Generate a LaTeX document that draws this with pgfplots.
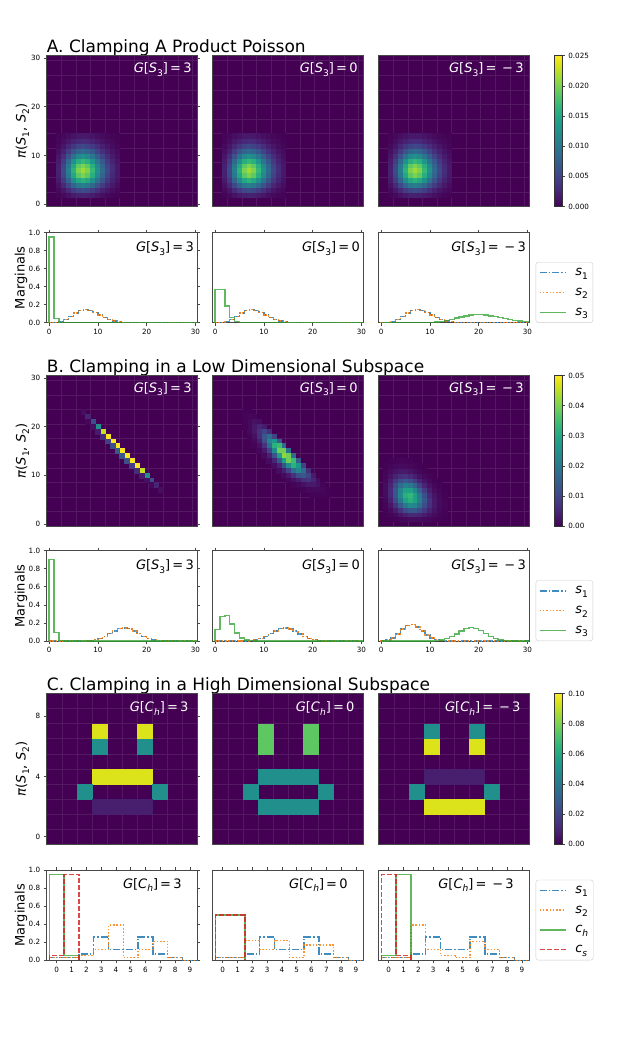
\documentclass[border=0pt]{standalone}
\usepackage{fontspec}
\setmainfont{DejaVu Sans}
\usepackage{graphicx}
\usepackage{pgfplots}
\pgfplotsset{compat=1.18}
\usepackage{pgfplotstable}

\definecolor{vir0}{RGB}{68,1,84}
\definecolor{c0}{RGB}{31,119,180}
\definecolor{c1}{RGB}{255,127,14}
\definecolor{c2}{RGB}{44,160,44}
\definecolor{c3}{RGB}{214,39,40}

\newcommand{\fs}[1]{\fontsize{#1}{#1}\selectfont}
\newcommand{\mi}[1]{\textit{#1}}
\newcommand{\sub}[1]{\raisebox{-0.28em}{\scalebox{0.7}{#1}}}
\newcommand{\GS}[1]{\mi{G}[\mi{S}\sub{3}]\,=\,#1}
\newcommand{\GC}[1]{\mi{G}[\mi{C}\sub{\mi{h}}]\,=\,#1}
\newcommand{\mthree}{\;−\,3}

\tikzset{
  ann/.style={anchor=north east, inner sep=0pt, font=\fs{13}},
  ps1/.style={c0, opacity=0.85, line width=1.4pt, dash pattern=on 7pt off 2pt on 1.5pt off 2pt},
  ps2/.style={c1, opacity=0.85, line width=1.4pt, dash pattern=on 1.5pt off 1.8pt},
  ps3/.style={c2, opacity=0.75, line width=1.4pt},
  pcs/.style={c3, opacity=0.85, line width=1.4pt, dash pattern=on 5pt off 2pt},
}

\pgfplotsset{
  /pgf/number format/assume math mode=true,
  every axis/.append style={
    scale only axis,
    axis line style={black!72, line width=0.7pt},
    tick style={black!72, line width=0.7pt},
    tick align=outside, major tick length=3pt,
    tick label style={font=\fs{7.2}},
    label style={font=\fs{13}},
  },
  every axis plot/.append style={const plot mark left},
  hm/.style={
    width=150.6pt, height=150.8pt,
    axis background/.style={fill=vir0},
    colormap/viridis, point meta min=0,
    xtick={0}, xticklabels={}, xtick style={draw=none},
    ytick={0}, yticklabels={}, ytick style={draw=none},
    minor tick length=0pt, grid=minor,
    minor grid style={color=white!9!vir0, line width=0.5pt},
  },
  big/.style={xmin=-0.5, xmax=30.5, ymin=-0.5, ymax=30.5,
    minor xtick={2.5,5.5,...,29.5}, minor ytick={2.5,5.5,...,29.5}},
  small/.style={xmin=-0.5, xmax=9.5, ymin=-0.5, ymax=9.5,
    minor xtick={0.5,1.5,...,8.5}, minor ytick={0.5,1.5,...,8.5}},
  cell/.style={scatter, only marks, mark=square*, mark size=#1, point meta=explicit,
    scatter/use mapped color={draw=mapped color, fill=mapped color, line width=0.3pt}},
  mg/.style={width=150.6pt, height=90.3pt, ymin=0, ymax=1, ytick=\empty},
  mgleft/.style={ytick={0,0.2,0.4,0.6,0.8,1}, yticklabels={0.0,0.2,0.4,0.6,0.8,1.0},
    ylabel={Marginals}, ylabel style={at={(axis description cs:-0.171,0.5)}, anchor=center}},
  hmleft/.style={ylabel={\mi{π}(\mi{S}\sub{1}, \mi{S}\sub{2})},
    ylabel style={at={(axis description cs:-0.161,0.5)}, anchor=center},
    ytick style={draw=black!72, line width=0.7pt}},
  cb/.style={colorbar, colorbar style={at={(parent axis.north east)}, anchor=north west,
    xshift=16.4pt, width=7.6pt, height=150.8pt, ytick pos=right, yticklabel pos=right,
    scaled y ticks=false,
    axis line style={black!80, line width=0.6pt}, #1}},
  leg/.style={legend style={at={(1.0425,0)}, anchor=south west, draw=black!20,
    rounded corners=2.5pt, font=\fs{13}, inner xsep=3pt, inner ysep=4pt, row sep=7pt,
    /tikz/every odd column/.append style={column sep=7pt}},
    legend cell align=left,
    legend image code/.code={\draw[##1] (0pt,0pt) -- (26pt,0pt);}},
}

% product Poisson heatmap, same in all three A panels
\pgfplotstableread[row sep=\\]{
x y z\\
2 2 0.00024\\ 3 2 0.00061\\ 4 2 0.00113\\ 5 2 0.00170\\ 6 2 0.00213\\ 7 2 0.00228\\ 8 2 0.00214\\ 9 2 0.00178\\ 10 2 0.00134\\ 11 2 0.00091\\ 12 2 0.00057\\ 13 2 0.00033\\ 14 2 0.00018\\
2 3 0.00061\\ 3 3 0.00151\\ 4 3 0.00284\\ 5 3 0.00425\\ 6 3 0.00532\\ 7 3 0.00570\\ 8 3 0.00534\\ 9 3 0.00445\\ 10 3 0.00334\\ 11 3 0.00228\\ 12 3 0.00142\\ 13 3 0.00082\\ 14 3 0.00044\\
2 4 0.00113\\ 3 4 0.00284\\ 4 4 0.00532\\ 5 4 0.00798\\ 6 4 0.00997\\ 7 4 0.01068\\ 8 4 0.01001\\ 9 4 0.00834\\ 10 4 0.00626\\ 11 4 0.00427\\ 12 4 0.00267\\ 13 4 0.00154\\ 14 4 0.00082\\
2 5 0.00170\\ 3 5 0.00425\\ 4 5 0.00798\\ 5 5 0.01196\\ 6 5 0.01495\\ 7 5 0.01602\\ 8 5 0.01502\\ 9 5 0.01252\\ 10 5 0.00939\\ 11 5 0.00640\\ 12 5 0.00400\\ 13 5 0.00231\\ 14 5 0.00124\\
2 6 0.00213\\ 3 6 0.00532\\ 4 6 0.00997\\ 5 6 0.01495\\ 6 6 0.01869\\ 7 6 0.02003\\ 8 6 0.01878\\ 9 6 0.01565\\ 10 6 0.01173\\ 11 6 0.00800\\ 12 6 0.00500\\ 13 6 0.00288\\ 14 6 0.00154\\
2 7 0.00228\\ 3 7 0.00570\\ 4 7 0.01068\\ 5 7 0.01602\\ 6 7 0.02003\\ 7 7 0.02146\\ 8 7 0.02012\\ 9 7 0.01676\\ 10 7 0.01257\\ 11 7 0.00857\\ 12 7 0.00536\\ 13 7 0.00309\\ 14 7 0.00166\\
2 8 0.00214\\ 3 8 0.00534\\ 4 8 0.01001\\ 5 8 0.01502\\ 6 8 0.01878\\ 7 8 0.02012\\ 8 8 0.01886\\ 9 8 0.01572\\ 10 8 0.01179\\ 11 8 0.00804\\ 12 8 0.00502\\ 13 8 0.00290\\ 14 8 0.00155\\
2 9 0.00178\\ 3 9 0.00445\\ 4 9 0.00834\\ 5 9 0.01252\\ 6 9 0.01565\\ 7 9 0.01676\\ 8 9 0.01572\\ 9 9 0.01310\\ 10 9 0.00982\\ 11 9 0.00670\\ 12 9 0.00419\\ 13 9 0.00241\\ 14 9 0.00129\\
2 10 0.00134\\ 3 10 0.00334\\ 4 10 0.00626\\ 5 10 0.00939\\ 6 10 0.01173\\ 7 10 0.01257\\ 8 10 0.01179\\ 9 10 0.00982\\ 10 10 0.00737\\ 11 10 0.00502\\ 12 10 0.00314\\ 13 10 0.00181\\ 14 10 0.00097\\
2 11 0.00091\\ 3 11 0.00228\\ 4 11 0.00427\\ 5 11 0.00640\\ 6 11 0.00800\\ 7 11 0.00857\\ 8 11 0.00804\\ 9 11 0.00670\\ 10 11 0.00502\\ 11 11 0.00342\\ 12 11 0.00214\\ 13 11 0.00123\\ 14 11 0.00066\\
2 12 0.00057\\ 3 12 0.00142\\ 4 12 0.00267\\ 5 12 0.00400\\ 6 12 0.00500\\ 7 12 0.00536\\ 8 12 0.00502\\ 9 12 0.00419\\ 10 12 0.00314\\ 11 12 0.00214\\ 12 12 0.00134\\ 13 12 0.00077\\ 14 12 0.00041\\
2 13 0.00033\\ 3 13 0.00082\\ 4 13 0.00154\\ 5 13 0.00231\\ 6 13 0.00288\\ 7 13 0.00309\\ 8 13 0.00290\\ 9 13 0.00241\\ 10 13 0.00181\\ 11 13 0.00123\\ 12 13 0.00077\\ 13 13 0.00045\\ 14 13 0.00024\\
2 14 0.00018\\ 3 14 0.00044\\ 4 14 0.00082\\ 5 14 0.00124\\ 6 14 0.00154\\ 7 14 0.00166\\ 8 14 0.00155\\ 9 14 0.00129\\ 10 14 0.00097\\ 11 14 0.00066\\ 12 14 0.00041\\ 13 14 0.00024\\ 14 14 0.00013\\
}\hmA

\begin{document}
\begin{tikzpicture}
\path[use as bounding box] (0,0) rectangle (623pt,-1038pt);

% ---------------- A ----------------
\node[anchor=base west, inner sep=0pt, font=\fs{17}] at (46.7pt,-52.7pt) {A. Clamping A Product Poisson};

\begin{axis}[hm, big, hmleft, at={(46.7pt,-55.7pt)}, anchor=north west, point meta max=0.025,
  ytick={0,10,20,30}, yticklabels={0,10,20,30}]
\addplot[cell=2.43pt] table[meta=z] {\hmA};
\node[ann, text=white] at (rel axis cs:0.963,0.956) {\GS{3}};
\end{axis}
\begin{axis}[hm, big, at={(212.7pt,-55.7pt)}, anchor=north west, point meta max=0.025]
\addplot[cell=2.43pt] table[meta=z] {\hmA};
\node[ann, text=white] at (rel axis cs:0.963,0.956) {\GS{0}};
\end{axis}
\begin{axis}[hm, big, at={(378.7pt,-55.7pt)}, anchor=north west, point meta max=0.025,
  cb={ytick={0,0.005,0.01,0.015,0.02,0.025}, yticklabels={0.000,0.005,0.010,0.015,0.020,0.025}}]
\addplot[cell=2.43pt] table[meta=z] {\hmA};
\node[ann, text=white] at (rel axis cs:0.963,0.956) {\GS{\mthree}};
\end{axis}

\begin{axis}[mg, mgleft, at={(46.7pt,-232.5pt)}, anchor=north west, xmin=-0.5, xmax=30.4, xtick={0,10,20,30}]
\addplot[ps1] coordinates {(0,0) (0,0.00055) (1,0.00415) (2,0.01556) (3,0.03889) (4,0.07292) (5,0.10937) (6,0.13672) (7,0.14648) (8,0.13733) (9,0.11444) (10,0.08583) (11,0.05852) (12,0.03658) (13,0.02110) (14,0.01130) (15,0.00565) (16,0.00265) (17,0.00117) (18,0.00049) (19,0.00019) (20,0.00007) (21,0) (31,0)};
\addplot[ps2] coordinates {(0,0) (0,0.00055) (1,0.00415) (2,0.01556) (3,0.03889) (4,0.07292) (5,0.10937) (6,0.13672) (7,0.14648) (8,0.13733) (9,0.11444) (10,0.08583) (11,0.05852) (12,0.03658) (13,0.02110) (14,0.01130) (15,0.00565) (16,0.00265) (17,0.00117) (18,0.00049) (19,0.00019) (20,0.00007) (21,0) (31,0)};
\addplot[ps3] coordinates {(0,0) (0,0.9514) (1,0.0474) (2,0.0012) (3,0) (31,0)};
\node[ann] at (rel axis cs:0.978,0.9) {\GS{3}};
\end{axis}
\begin{axis}[mg, at={(212.7pt,-232.5pt)}, anchor=north west, xmin=-0.5, xmax=30.4, xtick={0,10,20,30}]
\addplot[ps1] coordinates {(0,0) (0,0.00055) (1,0.00415) (2,0.01556) (3,0.03889) (4,0.07292) (5,0.10937) (6,0.13672) (7,0.14648) (8,0.13733) (9,0.11444) (10,0.08583) (11,0.05852) (12,0.03658) (13,0.02110) (14,0.01130) (15,0.00565) (16,0.00265) (17,0.00117) (18,0.00049) (19,0.00019) (20,0.00007) (21,0) (31,0)};
\addplot[ps2] coordinates {(0,0) (0,0.00055) (1,0.00415) (2,0.01556) (3,0.03889) (4,0.07292) (5,0.10937) (6,0.13672) (7,0.14648) (8,0.13733) (9,0.11444) (10,0.08583) (11,0.05852) (12,0.03658) (13,0.02110) (14,0.01130) (15,0.00565) (16,0.00265) (17,0.00117) (18,0.00049) (19,0.00019) (20,0.00007) (21,0) (31,0)};
\addplot[ps3] coordinates {(0,0) (0,0.3679) (1,0.3679) (2,0.1839) (3,0.0613) (4,0.0153) (5,0.0031) (6,0.0005) (7,0) (31,0)};
\node[ann] at (rel axis cs:0.978,0.9) {\GS{0}};
\end{axis}
\begin{axis}[mg, leg, at={(378.7pt,-232.5pt)}, anchor=north west, xmin=-0.5, xmax=30.4, xtick={0,10,20,30}]
\addplot[ps1] coordinates {(0,0) (0,0.00055) (1,0.00415) (2,0.01556) (3,0.03889) (4,0.07292) (5,0.10937) (6,0.13672) (7,0.14648) (8,0.13733) (9,0.11444) (10,0.08583) (11,0.05852) (12,0.03658) (13,0.02110) (14,0.01130) (15,0.00565) (16,0.00265) (17,0.00117) (18,0.00049) (19,0.00019) (20,0.00007) (21,0) (31,0)};
\addlegendentry{\mi{s}\sub{1}}
\addplot[ps2] coordinates {(0,0) (0,0.00055) (1,0.00415) (2,0.01556) (3,0.03889) (4,0.07292) (5,0.10937) (6,0.13672) (7,0.14648) (8,0.13733) (9,0.11444) (10,0.08583) (11,0.05852) (12,0.03658) (13,0.02110) (14,0.01130) (15,0.00565) (16,0.00265) (17,0.00117) (18,0.00049) (19,0.00019) (20,0.00007) (21,0) (31,0)};
\addlegendentry{\mi{s}\sub{2}}
\addplot[ps3] coordinates {(0,0) (7,0.00052) (8,0.00131) (9,0.00291) (10,0.00582) (11,0.01058) (12,0.01762) (13,0.02713) (14,0.03874) (15,0.05165) (16,0.06456) (17,0.07595) (18,0.08440) (19,0.08884) (20,0.08884) (21,0.08461) (22,0.07692) (23,0.06689) (24,0.05574) (25,0.04459) (26,0.03430) (27,0.02541) (28,0.01815) (29,0.01252) (30,0.00834) (31,0)};
\addlegendentry{\mi{s}\sub{3}}
\node[ann] at (rel axis cs:0.978,0.9) {\GS{\mthree}};
\end{axis}

% ---------------- B ----------------
\node[anchor=base west, inner sep=0pt, font=\fs{17}] at (46.7pt,-372.5pt) {B. Clamping in a Low Dimensional Subspace};

\begin{axis}[hm, big, hmleft, at={(46.7pt,-375.5pt)}, anchor=north west, point meta max=0.05,
  ytick={0,10,20,30}, yticklabels={0,10,20,30}]
\addplot[cell=2.43pt] coordinates {
(7,23)[0.0017] (8,22)[0.0049] (9,21)[0.0120] (10,20)[0.0252] (11,19)[0.0458] (12,18)[0.0725] (13,17)[0.1004] (14,16)[0.1219] (15,15)[0.1301]
(16,14)[0.1219] (17,13)[0.1004] (18,12)[0.0725] (19,11)[0.0458] (20,10)[0.0252] (21,9)[0.0120] (22,8)[0.0049] (23,7)[0.0017]
(8,21)[0.0009] (9,20)[0.0020] (10,19)[0.0037] (11,18)[0.0062] (12,17)[0.0091] (13,16)[0.0119] (14,15)[0.0137]
(15,14)[0.0137] (16,13)[0.0119] (17,12)[0.0091] (18,11)[0.0062] (19,10)[0.0037] (20,9)[0.0020] (21,8)[0.0009]};
\node[ann, text=white] at (rel axis cs:0.963,0.956) {\GS{3}};
\end{axis}
\begin{axis}[hm, big, at={(212.7pt,-375.5pt)}, anchor=north west, point meta max=0.05]
\addplot[cell=2.43pt] coordinates {
(7,23)[0.00024] (8,22)[0.00069] (9,21)[0.00168] (10,20)[0.00353] (11,19)[0.00642] (12,18)[0.01017] (13,17)[0.01408] (14,16)[0.01709] (15,15)[0.01823]
(16,14)[0.01709] (17,13)[0.01408] (18,12)[0.01017] (19,11)[0.00642] (20,10)[0.00353] (21,9)[0.00168] (22,8)[0.00069] (23,7)[0.00024]
(6,23)[0.00024] (7,22)[0.00079] (8,21)[0.00216] (9,20)[0.00504] (10,19)[0.01009] (11,18)[0.01743] (12,17)[0.02614] (13,16)[0.03418] (14,15)[0.03906]
(15,14)[0.03906] (16,13)[0.03418] (17,12)[0.02614] (18,11)[0.01743] (19,10)[0.01009] (20,9)[0.00504] (21,8)[0.00216] (22,7)[0.00079] (23,6)[0.00024]
(6,22)[0.00039] (7,21)[0.00124] (8,20)[0.00324] (9,19)[0.00721] (10,18)[0.01369] (11,17)[0.02241] (12,16)[0.03174] (13,15)[0.03907] (14,14)[0.04186]
(15,13)[0.03907] (16,12)[0.03174] (17,11)[0.02241] (18,10)[0.01369] (19,9)[0.00721] (20,8)[0.00324] (21,7)[0.00124] (22,6)[0.00039]
(6,21)[0.00041] (7,20)[0.00124] (8,19)[0.00309] (9,18)[0.00652] (10,17)[0.01174] (11,16)[0.01814] (12,15)[0.02418] (13,14)[0.02790]
(14,13)[0.02790] (15,12)[0.02418] (16,11)[0.01814] (17,10)[0.01174] (18,9)[0.00652] (19,8)[0.00309] (20,7)[0.00124] (21,6)[0.00041]
(6,20)[0.00031] (7,19)[0.00088] (8,18)[0.00210] (9,17)[0.00419] (10,16)[0.00712] (11,15)[0.01036] (12,14)[0.01295] (13,13)[0.01395]
(14,12)[0.01295] (15,11)[0.01036] (16,10)[0.00712] (17,9)[0.00419] (18,8)[0.00210] (19,7)[0.00088] (20,6)[0.00031]
(7,18)[0.00048] (8,17)[0.00108] (9,16)[0.00203] (10,15)[0.00325] (11,14)[0.00444] (12,13)[0.00518]
(13,12)[0.00518] (14,11)[0.00444] (15,10)[0.00325] (16,9)[0.00203] (17,8)[0.00108] (18,7)[0.00048]
(8,16)[0.00044] (9,15)[0.00078] (10,14)[0.00117] (11,13)[0.00149] (12,12)[0.00161] (13,11)[0.00149] (14,10)[0.00117] (15,9)[0.00078] (16,8)[0.00044]};
\node[ann, text=white] at (rel axis cs:0.963,0.956) {\GS{0}};
\end{axis}
\begin{axis}[hm, big, at={(378.7pt,-375.5pt)}, anchor=north west, point meta max=0.05,
  cb={ytick={0,0.01,0.02,0.03,0.04,0.05}, yticklabels={0.00,0.01,0.02,0.03,0.04,0.05}}]
\addplot[cell=2.43pt] coordinates {
(1,1)[0.00002] (2,1)[0.00010] (3,1)[0.00030] (4,1)[0.00065] (5,1)[0.00108] (6,1)[0.00144] (7,1)[0.00158] (8,1)[0.00145] (9,1)[0.00113] (10,1)[0.00075] (11,1)[0.00043] (12,1)[0.00022] (13,1)[0.00010]
(1,2)[0.00010] (2,2)[0.00045] (3,2)[0.00130] (4,2)[0.00270] (5,2)[0.00432] (6,2)[0.00552] (7,2)[0.00578] (8,2)[0.00506] (9,2)[0.00375] (10,2)[0.00237] (11,2)[0.00129] (12,2)[0.00061] (13,2)[0.00025]
(1,3)[0.00030] (2,3)[0.00130] (3,3)[0.00360] (4,3)[0.00719] (5,3)[0.01103] (6,3)[0.01348] (7,3)[0.01348] (8,3)[0.01123] (9,3)[0.00790] (10,3)[0.00474] (11,3)[0.00244] (12,3)[0.00109] (13,3)[0.00042]
(1,4)[0.00065] (2,4)[0.00270] (3,4)[0.00720] (4,4)[0.01379] (5,4)[0.02023] (6,4)[0.02360] (7,4)[0.02248] (8,4)[0.01780] (9,4)[0.01187] (10,4)[0.00672] (11,4)[0.00326] (12,4)[0.00136] (13,4)[0.00049]
(1,5)[0.00108] (2,5)[0.00432] (3,5)[0.01103] (4,5)[0.02022] (5,5)[0.02831] (6,5)[0.03146] (7,5)[0.02846] (8,5)[0.02135] (9,5)[0.01344] (10,5)[0.00717] (11,5)[0.00326] (12,5)[0.00127] (13,5)[0.00042]
(1,6)[0.00144] (2,6)[0.00552] (3,6)[0.01348] (4,6)[0.02360] (5,6)[0.03146] (6,6)[0.03321] (7,6)[0.02847] (8,6)[0.02016] (9,6)[0.01195] (10,6)[0.00597] (11,6)[0.00253] (12,6)[0.00092] (13,6)[0.00028]
(1,7)[0.00158] (2,7)[0.00578] (3,7)[0.01349] (4,7)[0.02248] (5,7)[0.02847] (6,7)[0.02847] (7,7)[0.02305] (8,7)[0.01537] (9,7)[0.00854] (10,7)[0.00398] (11,7)[0.00157] (12,7)[0.00052] (13,7)[0.00015]
(1,8)[0.00145] (2,8)[0.00506] (3,8)[0.01123] (4,8)[0.01780] (5,8)[0.02135] (6,8)[0.02016] (7,8)[0.01537] (8,8)[0.00961] (9,8)[0.00498] (10,8)[0.00216] (11,8)[0.00079] (12,8)[0.00024]
(1,9)[0.00113] (2,9)[0.00375] (3,9)[0.00790] (4,9)[0.01187] (5,9)[0.01344] (6,9)[0.01195] (7,9)[0.00854] (8,9)[0.00498] (9,9)[0.00240] (10,9)[0.00096] (11,9)[0.00032]
(1,10)[0.00075] (2,10)[0.00237] (3,10)[0.00474] (4,10)[0.00672] (5,10)[0.00717] (6,10)[0.00597] (7,10)[0.00398] (8,10)[0.00216] (9,10)[0.00096] (10,10)[0.00035]
(1,11)[0.00043] (2,11)[0.00129] (3,11)[0.00244] (4,11)[0.00326] (5,11)[0.00326] (6,11)[0.00253] (7,11)[0.00157] (8,11)[0.00079] (9,11)[0.00032]
(1,12)[0.00022] (2,12)[0.00061] (3,12)[0.00109] (4,12)[0.00136] (5,12)[0.00127] (6,12)[0.00092] (7,12)[0.00052] (8,12)[0.00024]
(2,13)[0.00025] (3,13)[0.00042] (4,13)[0.00049] (5,13)[0.00042] (6,13)[0.00028]};
\node[ann, text=white] at (rel axis cs:0.963,0.956) {\GS{\mthree}};
\end{axis}

\begin{axis}[mg, mgleft, at={(46.7pt,-550.7pt)}, anchor=north west, xmin=-0.5, xmax=30.4, xtick={0,10,20,30}]
\addplot[ps1] coordinates {(0,0) (6,0.0006) (7,0.0019) (8,0.0055) (9,0.0134) (10,0.0281) (11,0.0511) (12,0.0808) (13,0.1117) (14,0.1355) (15,0.1444) (16,0.1352) (17,0.1112) (18,0.0803) (19,0.0506) (20,0.0278) (21,0.0132) (22,0.0054) (23,0.0019) (24,0.0005) (25,0) (31,0)};
\addplot[ps2] coordinates {(0,0) (6,0.0006) (7,0.0019) (8,0.0055) (9,0.0134) (10,0.0281) (11,0.0511) (12,0.0808) (13,0.1117) (14,0.1355) (15,0.1444) (16,0.1352) (17,0.1112) (18,0.0803) (19,0.0506) (20,0.0278) (21,0.0132) (22,0.0054) (23,0.0019) (24,0.0005) (25,0) (31,0)};
\addplot[ps3] coordinates {(0,0) (0,0.9004) (1,0.0948) (2,0.0048) (3,0) (31,0)};
\node[ann] at (rel axis cs:0.978,0.9) {\GS{3}};
\end{axis}
\begin{axis}[mg, at={(212.7pt,-550.7pt)}, anchor=north west, xmin=-0.5, xmax=30.4, xtick={0,10,20,30}]
\addplot[ps1] coordinates {(0,0) (5,0.0005) (6,0.0017) (7,0.0052) (8,0.0130) (9,0.0278) (10,0.0510) (11,0.0811) (12,0.1124) (13,0.1362) (14,0.1447) (15,0.1351) (16,0.1108) (17,0.0798) (18,0.0505) (19,0.0279) (20,0.0134) (21,0.0056) (22,0.0020) (23,0.0006) (24,0) (31,0)};
\addplot[ps2] coordinates {(0,0) (5,0.0005) (6,0.0017) (7,0.0052) (8,0.0130) (9,0.0278) (10,0.0510) (11,0.0811) (12,0.1124) (13,0.1362) (14,0.1447) (15,0.1351) (16,0.1108) (17,0.0798) (18,0.0505) (19,0.0279) (20,0.0134) (21,0.0056) (22,0.0020) (23,0.0006) (24,0) (31,0)};
\addplot[ps3] coordinates {(0,0) (0,0.1262) (1,0.2704) (2,0.2801) (3,0.1867) (4,0.0900) (5,0.0334) (6,0.0100) (7,0.0024) (8,0.0005) (9,0) (31,0)};
\node[ann] at (rel axis cs:0.978,0.9) {\GS{0}};
\end{axis}
\begin{axis}[mg, leg, at={(378.7pt,-550.7pt)}, anchor=north west, xmin=-0.5, xmax=30.4, xtick={0,10,20,30}]
\addplot[ps1] coordinates {(0,0) (0,0.0012) (1,0.0093) (2,0.0337) (3,0.0785) (4,0.1325) (5,0.1723) (6,0.1795) (7,0.1538) (8,0.1106) (9,0.0676) (10,0.0355) (11,0.0161) (12,0.0064) (13,0.0022) (14,0.0007) (15,0) (31,0)};
\addlegendentry{\mi{s}\sub{1}}
\addplot[ps2] coordinates {(0,0) (0,0.0012) (1,0.0093) (2,0.0337) (3,0.0785) (4,0.1325) (5,0.1723) (6,0.1795) (7,0.1538) (8,0.1106) (9,0.0676) (10,0.0355) (11,0.0161) (12,0.0064) (13,0.0022) (14,0.0007) (15,0) (31,0)};
\addlegendentry{\mi{s}\sub{2}}
\addplot[ps3] coordinates {(0,0) (9,0.0006) (10,0.0020) (11,0.0055) (12,0.0129) (13,0.0269) (14,0.0490) (15,0.0783) (16,0.1101) (17,0.1360) (18,0.1474) (19,0.1396) (20,0.1152) (21,0.0823) (22,0.0505) (23,0.0263) (24,0.0115) (25,0.0042) (26,0.0012) (27,0.0003) (28,0) (31,0)};
\addlegendentry{\mi{s}\sub{3}}
\node[ann] at (rel axis cs:0.978,0.9) {\GS{\mthree}};
\end{axis}

% ---------------- C ----------------
\node[anchor=base west, inner sep=0pt, font=\fs{17}] at (46.7pt,-690.5pt) {C. Clamping in a High Dimensional Subspace};

\begin{axis}[hm, small, hmleft, at={(46.7pt,-693.5pt)}, anchor=north west, point meta max=0.1,
  ytick={0,4,8}, yticklabels={0,4,8}]
\addplot[cell=7.53pt] coordinates {(3,7)[0.095] (6,7)[0.095] (3,6)[0.05] (6,6)[0.05]
(3,4)[0.095] (4,4)[0.095] (5,4)[0.095] (6,4)[0.095] (2,3)[0.05] (7,3)[0.05]
(3,2)[0.008] (4,2)[0.008] (5,2)[0.008] (6,2)[0.008]};
\node[ann, text=white] at (rel axis cs:0.942,0.945) {\GC{3}};
\end{axis}
\begin{axis}[hm, small, at={(212.7pt,-693.5pt)}, anchor=north west, point meta max=0.1]
\addplot[cell=7.53pt] coordinates {(3,7)[0.075] (6,7)[0.075] (3,6)[0.075] (6,6)[0.075]
(3,4)[0.05] (4,4)[0.05] (5,4)[0.05] (6,4)[0.05] (2,3)[0.05] (7,3)[0.05]
(3,2)[0.05] (4,2)[0.05] (5,2)[0.05] (6,2)[0.05]};
\node[ann, text=white] at (rel axis cs:0.942,0.945) {\GC{0}};
\end{axis}
\begin{axis}[hm, small, at={(378.7pt,-693.5pt)}, anchor=north west, point meta max=0.1,
  cb={ytick={0,0.02,0.04,0.06,0.08,0.1}, yticklabels={0.00,0.02,0.04,0.06,0.08,0.10}}]
\addplot[cell=7.53pt] coordinates {(3,7)[0.05] (6,7)[0.05] (3,6)[0.095] (6,6)[0.095]
(3,4)[0.008] (4,4)[0.008] (5,4)[0.008] (6,4)[0.008] (2,3)[0.05] (7,3)[0.05]
(3,2)[0.095] (4,2)[0.095] (5,2)[0.095] (6,2)[0.095]};
\node[ann, text=white] at (rel axis cs:0.942,0.945) {\GC{\mthree}};
\end{axis}

\begin{axis}[mg, mgleft, at={(46.7pt,-870pt)}, anchor=north west, xmin=-0.68, xmax=9.5, xtick={0,...,9}]
\addplot[ps1] coordinates {(-0.5,0) (-0.5,0.03) (0.5,0.03) (1.5,0.07) (2.5,0.26) (3.5,0.12) (4.5,0.12) (5.5,0.26) (6.5,0.07) (7.5,0.03) (8.5,0) (9.5,0)};
\addplot[ps2] coordinates {(-0.5,0) (-0.5,0.03) (0.5,0.03) (1.5,0.05) (2.5,0.12) (3.5,0.39) (4.5,0.03) (5.5,0.12) (6.5,0.21) (7.5,0.03) (8.5,0) (9.5,0)};
\addplot[ps3] coordinates {(-0.5,0) (-0.5,0.95) (0.5,0.05) (1.5,0)};
\addplot[pcs] coordinates {(-0.5,0) (-0.5,0.05) (0.5,0.95) (1.5,0)};
\node[ann] at (rel axis cs:0.897,0.91) {\GC{3}};
\end{axis}
\begin{axis}[mg, at={(212.7pt,-870pt)}, anchor=north west, xmin=-0.68, xmax=9.5, xtick={0,...,9}]
\addplot[ps1] coordinates {(-0.5,0) (-0.5,0.03) (0.5,0.03) (1.5,0.07) (2.5,0.26) (3.5,0.12) (4.5,0.12) (5.5,0.26) (6.5,0.07) (7.5,0.03) (8.5,0) (9.5,0)};
\addplot[ps2] coordinates {(-0.5,0) (-0.5,0.03) (0.5,0.03) (1.5,0.22) (2.5,0.12) (3.5,0.22) (4.5,0.03) (5.5,0.17) (6.5,0.17) (7.5,0.03) (8.5,0) (9.5,0)};
\addplot[ps3] coordinates {(-0.5,0) (-0.5,0.5) (0.5,0.5) (1.5,0)};
\addplot[pcs] coordinates {(-0.5,0) (-0.5,0.5) (0.5,0.5) (1.5,0)};
\node[ann] at (rel axis cs:0.897,0.91) {\GC{0}};
\end{axis}
\begin{axis}[mg, leg, at={(378.7pt,-870pt)}, anchor=north west, xmin=-0.68, xmax=9.5, xtick={0,...,9}]
\addplot[ps1] coordinates {(-0.5,0) (-0.5,0.03) (0.5,0.03) (1.5,0.07) (2.5,0.26) (3.5,0.12) (4.5,0.12) (5.5,0.26) (6.5,0.07) (7.5,0.03) (8.5,0) (9.5,0)};
\addlegendentry{\mi{s}\sub{1}}
\addplot[ps2] coordinates {(-0.5,0) (-0.5,0.03) (0.5,0.03) (1.5,0.39) (2.5,0.12) (3.5,0.05) (4.5,0.03) (5.5,0.21) (6.5,0.12) (7.5,0.03) (8.5,0) (9.5,0)};
\addlegendentry{\mi{s}\sub{2}}
\addplot[ps3] coordinates {(-0.5,0) (-0.5,0.05) (0.5,0.95) (1.5,0)};
\addlegendentry{\mi{c}\sub{\mi{h}}}
\addplot[pcs] coordinates {(-0.5,0) (-0.5,0.95) (0.5,0.05) (1.5,0)};
\addlegendentry{\mi{c}\sub{\mi{s}}}
\node[ann] at (rel axis cs:0.897,0.91) {\GC{\mthree}};
\end{axis}
\end{tikzpicture}
\end{document}
